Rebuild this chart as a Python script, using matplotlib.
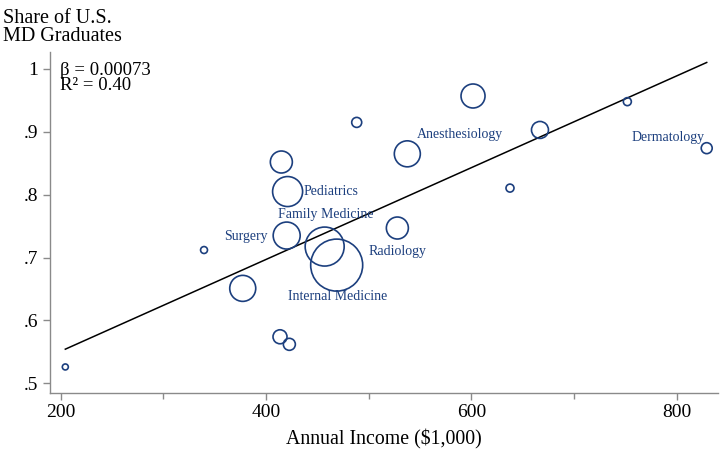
import matplotlib
matplotlib.use('Agg')
import matplotlib.pyplot as plt
import numpy as np

# Annual income ($1,000) and share of U.S. MD graduates by specialty
income = [204.5, 339.6, 420.1, 421.0, 414.9, 488.3, 537.6, 601.6, 457.1,
          468.8, 527.9, 377.3, 413.6, 422.7, 637.6, 666.8, 751.9, 829.2]
share = [0.526, 0.712, 0.735, 0.805, 0.852, 0.915, 0.865, 0.957, 0.7175,
         0.688, 0.747, 0.651, 0.574, 0.562, 0.8105, 0.903, 0.948, 0.874]
# bubble weights (number of residents, relative)
weight = [9, 12, 182, 225, 121, 25, 169, 144, 380,
          676, 121, 169, 49, 36, 16, 72, 16, 30]

# labelled specialties: (name, x, y, alignment)
labels = [
    ('Anesthesiology', 547, 0.895, 'left'),
    ('Dermatology', 827, 0.891, 'right'),
    ('Pediatrics', 437, 0.805, 'left'),
    ('Family Medicine', 411.7, 0.768, 'left'),
    ('Surgery', 402, 0.734, 'right'),
    ('Radiology', 500.3, 0.709, 'left'),
    ('Internal Medicine', 421.4, 0.6374, 'left'),
]

beta = 0.00073
intercept = 0.405
r2 = 0.40

plt.rcParams['font.family'] = ['Liberation Serif', 'DejaVu Serif']
blue = '#1c3f7e'

fig = plt.figure(figsize=(7.27, 4.54), dpi=100)
ax = fig.add_axes([0.0681, 0.1344, 0.9191, 0.7511])

# bubble size: area proportional to weight (radius in px = sqrt(weight))
sizes = [(1.44 * np.sqrt(w)) ** 2 for w in weight]
ax.scatter(income, share, s=sizes, facecolors='none', edgecolors=blue,
           linewidths=1.2, zorder=3)

xs = np.array([min(income), max(income)])
ax.plot(xs, intercept + beta * xs, color='black', lw=1.1, zorder=2)

for name, x, y, ha in labels:
    ax.text(x, y, name, color=blue, fontsize=10, ha=ha, va='center')

ax.text(0.0157, 0.972, f'\u03b2 = {beta:.5f}\nR\u00b2 = {r2:.2f}',
        transform=ax.transAxes, fontsize=13.5, va='top', ha='left',
        linespacing=0.85)

ax.set_xlim(189.1, 839.9)
ax.set_ylim(0.4846, 1.027)
ax.set_xticks([200, 400, 600, 800])
ax.set_xticks([300, 500, 700], minor=True)
ax.set_yticks([0.5, 0.6, 0.7, 0.8, 0.9, 1.0])
ax.set_yticklabels(['.5', '.6', '.7', '.8', '.9', '1'])

for s in ['top', 'right']:
    ax.spines[s].set_visible(False)
for s in ['left', 'bottom']:
    ax.spines[s].set_color('#8a8a8a')
    ax.spines[s].set_linewidth(1.0)
ax.tick_params(which='both', direction='out', length=5, width=1.0,
               color='#8a8a8a', labelsize=14, labelcolor='black', pad=3)
ax.tick_params(axis='x', which='minor', length=4)

ax.set_xlabel('Annual Income ($1,000)', fontsize=14.3, labelpad=6)
fig.text(0.004, 1 - 9 / 454, 'Share of U.S.\nMD Graduates', fontsize=14.5,
         ha='left', va='top', linespacing=0.92)

fig.savefig('out.png', dpi=100)
